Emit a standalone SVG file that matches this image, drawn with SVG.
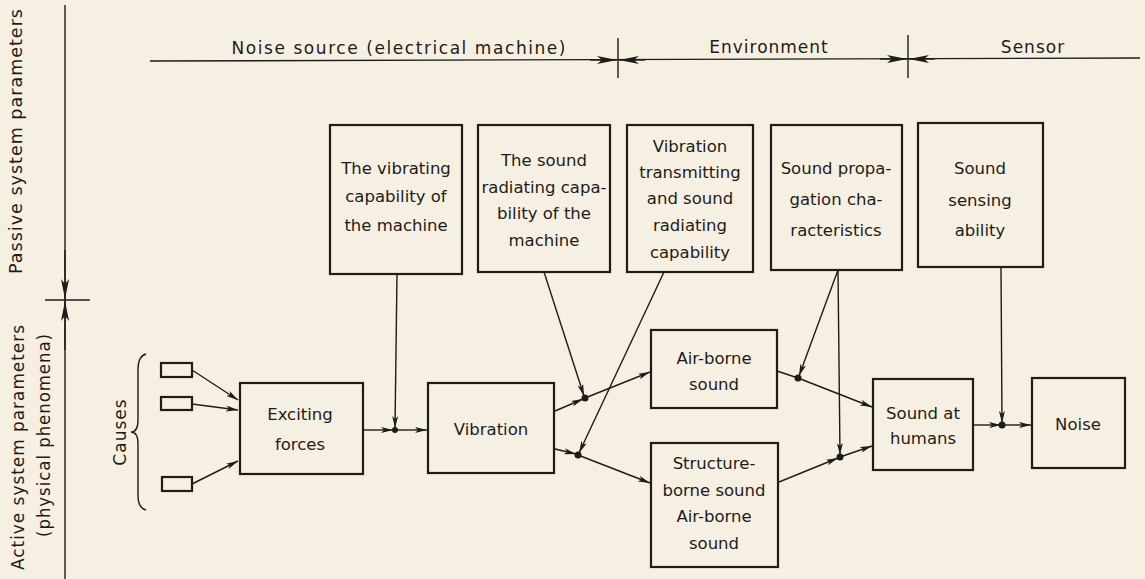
<svg xmlns="http://www.w3.org/2000/svg" width="1145" height="579" viewBox="0 0 1145 579">
<defs>
<marker id="ar" viewBox="0 0 12 6" refX="12" refY="3" markerWidth="12" markerHeight="6" markerUnits="userSpaceOnUse" orient="auto">
<path d="M0,0 L12,3 L0,6 L3,3 z" fill="#1e1b18"/>
</marker>
<marker id="ab" viewBox="0 0 20 8" refX="20" refY="4" markerWidth="20" markerHeight="8" markerUnits="userSpaceOnUse" orient="auto">
<path d="M0,0 L20,4 L0,8 L5,4 z" fill="#1e1b18"/>
</marker>
<style>
.bx{fill:none;stroke:#1e1b18;stroke-width:2.2}
.ln{fill:none;stroke:#1e1b18;stroke-width:1.4}
.cn{fill:none;stroke:#1e1b18;stroke-width:1.4;marker-end:url(#ar)}
.dv{fill:none;stroke:#1e1b18;stroke-width:1.4;marker-end:url(#ab)}
.t{font-family:"DejaVu Sans","Liberation Sans",sans-serif;font-size:16.5px;fill:#1e1b18;text-anchor:middle}
.h{font-family:"DejaVu Sans","Liberation Sans",sans-serif;font-size:17px;fill:#1e1b18;letter-spacing:1px}
.dot{fill:#1e1b18}
</style>
</defs>
<rect width="1145" height="579" fill="#f6f0e2"/>

<g id="axis">
<line class="ln" x1="65" y1="5" x2="65" y2="579"/>
<line class="dv" x1="65" y1="250" x2="65" y2="299"/>
<line class="dv" x1="65" y1="350" x2="65" y2="301"/>
<line class="ln" x1="45" y1="300" x2="90" y2="300"/>
<text class="h" transform="translate(22,141) rotate(-90)" text-anchor="middle" textLength="266" lengthAdjust="spacingAndGlyphs">Passive system parameters</text>
<text class="h" transform="translate(24,447) rotate(-90)" text-anchor="middle" textLength="246" lengthAdjust="spacingAndGlyphs">Active system parameters</text>
<text class="h" transform="translate(50,435) rotate(-90)" text-anchor="middle" textLength="204" lengthAdjust="spacingAndGlyphs">(physical phenomena)</text>
</g>

<g id="header">
<line class="ln" x1="150" y1="61" x2="1140" y2="58"/>
<line class="ln" x1="618" y1="38" x2="618" y2="78"/>
<line class="ln" x1="908" y1="35" x2="908" y2="78"/>
<line class="dv" x1="590" y1="60" x2="617" y2="60"/>
<line class="dv" x1="645" y1="60" x2="619" y2="60"/>
<line class="dv" x1="880" y1="59" x2="907" y2="59"/>
<line class="dv" x1="935" y1="59" x2="909" y2="59"/>
<text class="h" x="399" y="54" text-anchor="middle" textLength="335">Noise source (electrical machine)</text>
<text class="h" x="769" y="53" text-anchor="middle">Environment</text>
<text class="h" x="1033" y="53" text-anchor="middle">Sensor</text>
</g>

<g id="causes">
<rect class="bx" x="161" y="363" width="31" height="14"/>
<rect class="bx" x="161" y="397" width="31" height="13"/>
<rect class="bx" x="162" y="477" width="30" height="14"/>
<path class="ln" d="M146,354 Q138,356 138,370 L138,420 Q138,432 131,432 Q138,432 138,444 L138,496 Q138,508 146,510"/>
<text class="h" transform="translate(126,432) rotate(-90)" text-anchor="middle">Causes</text>
</g>

<g id="exciting">
<rect class="bx" x="240" y="383" width="123" height="91"/>
<text class="t" x="300" y="420">Exciting</text>
<text class="t" x="300" y="450">forces</text>
</g>

<g id="vibration">
<rect class="bx" x="428" y="383" width="126" height="90"/>
<text class="t" x="491" y="435">Vibration</text>
</g>

<g id="airborne">
<rect class="bx" x="651" y="330" width="126" height="78"/>
<text class="t" x="714" y="364">Air-borne</text>
<text class="t" x="714" y="390">sound</text>
</g>

<g id="structure">
<rect class="bx" x="651" y="443" width="127" height="124"/>
<text class="t" x="714" y="469">Structure-</text>
<text class="t" x="714" y="496">borne sound</text>
<text class="t" x="714" y="522">Air-borne</text>
<text class="t" x="714" y="549">sound</text>
</g>

<g id="humans">
<rect class="bx" x="873" y="379" width="100" height="91"/>
<text class="t" x="923" y="419">Sound at</text>
<text class="t" x="923" y="444">humans</text>
</g>

<g id="noise">
<rect class="bx" x="1032" y="378" width="93" height="90"/>
<text class="t" x="1078" y="430">Noise</text>
</g>

<g id="vibcap">
<rect class="bx" x="330" y="125" width="132" height="149"/>
<text class="t" x="396" y="174">The vibrating</text>
<text class="t" x="396" y="202">capability of</text>
<text class="t" x="396" y="231">the machine</text>
</g>

<g id="soundcap">
<rect class="bx" x="478" y="125" width="132" height="147"/>
<text class="t" x="544" y="166">The sound</text>
<text class="t" x="544" y="193">radiating capa-</text>
<text class="t" x="544" y="219">bility of the</text>
<text class="t" x="544" y="246">machine</text>
</g>

<g id="transmit">
<rect class="bx" x="627" y="125" width="126" height="147"/>
<text class="t" x="690" y="152">Vibration</text>
<text class="t" x="690" y="178">transmitting</text>
<text class="t" x="690" y="204">and sound</text>
<text class="t" x="690" y="231">radiating</text>
<text class="t" x="690" y="258">capability</text>
</g>

<g id="propagation">
<rect class="bx" x="771" y="125" width="131" height="145"/>
<text class="t" x="836" y="174">Sound propa-</text>
<text class="t" x="836" y="205">gation cha-</text>
<text class="t" x="836" y="236">racteristics</text>
</g>

<g id="sensing">
<rect class="bx" x="918" y="123" width="125" height="144"/>
<text class="t" x="980" y="174">Sound</text>
<text class="t" x="980" y="206">sensing</text>
<text class="t" x="980" y="236">ability</text>
</g>

<g id="connectors">
<line class="cn" x1="192" y1="370" x2="238" y2="400"/>
<line class="cn" x1="192" y1="404" x2="238" y2="410"/>
<line class="cn" x1="192" y1="484" x2="238" y2="461"/>
<line class="cn" x1="363" y1="430" x2="393" y2="430"/>
<line class="cn" x1="396" y1="430" x2="427" y2="430"/>
<line class="cn" x1="397" y1="274" x2="395" y2="428"/>
<line class="cn" x1="555" y1="411" x2="583" y2="399"/>
<line class="cn" x1="585" y1="398" x2="650" y2="372"/>
<line class="cn" x1="544" y1="272" x2="584" y2="396"/>
<line class="cn" x1="664" y1="272" x2="579" y2="453"/>
<line class="cn" x1="555" y1="449" x2="576" y2="454"/>
<line class="cn" x1="578" y1="455" x2="650" y2="483"/>
<line class="ln" x1="777" y1="371" x2="798" y2="378"/>
<line class="cn" x1="798" y1="378" x2="872" y2="407"/>
<line class="cn" x1="838" y1="270" x2="799" y2="376"/>
<line class="cn" x1="838" y1="270" x2="840" y2="455"/>
<line class="cn" x1="779" y1="482" x2="838" y2="458"/>
<line class="cn" x1="840" y1="457" x2="872" y2="446"/>
<line class="cn" x1="973" y1="425" x2="1001" y2="425"/>
<line class="cn" x1="1003" y1="425" x2="1031" y2="425"/>
<line class="cn" x1="1001" y1="267" x2="1002" y2="423"/>
<circle class="dot" cx="395" cy="430" r="3"/>
<circle class="dot" cx="585" cy="398" r="3.5"/>
<circle class="dot" cx="578" cy="455" r="3.5"/>
<circle class="dot" cx="798" cy="378" r="3.5"/>
<circle class="dot" cx="840" cy="457" r="3.5"/>
<circle class="dot" cx="1002" cy="425" r="3.5"/>
</g>
</svg>
